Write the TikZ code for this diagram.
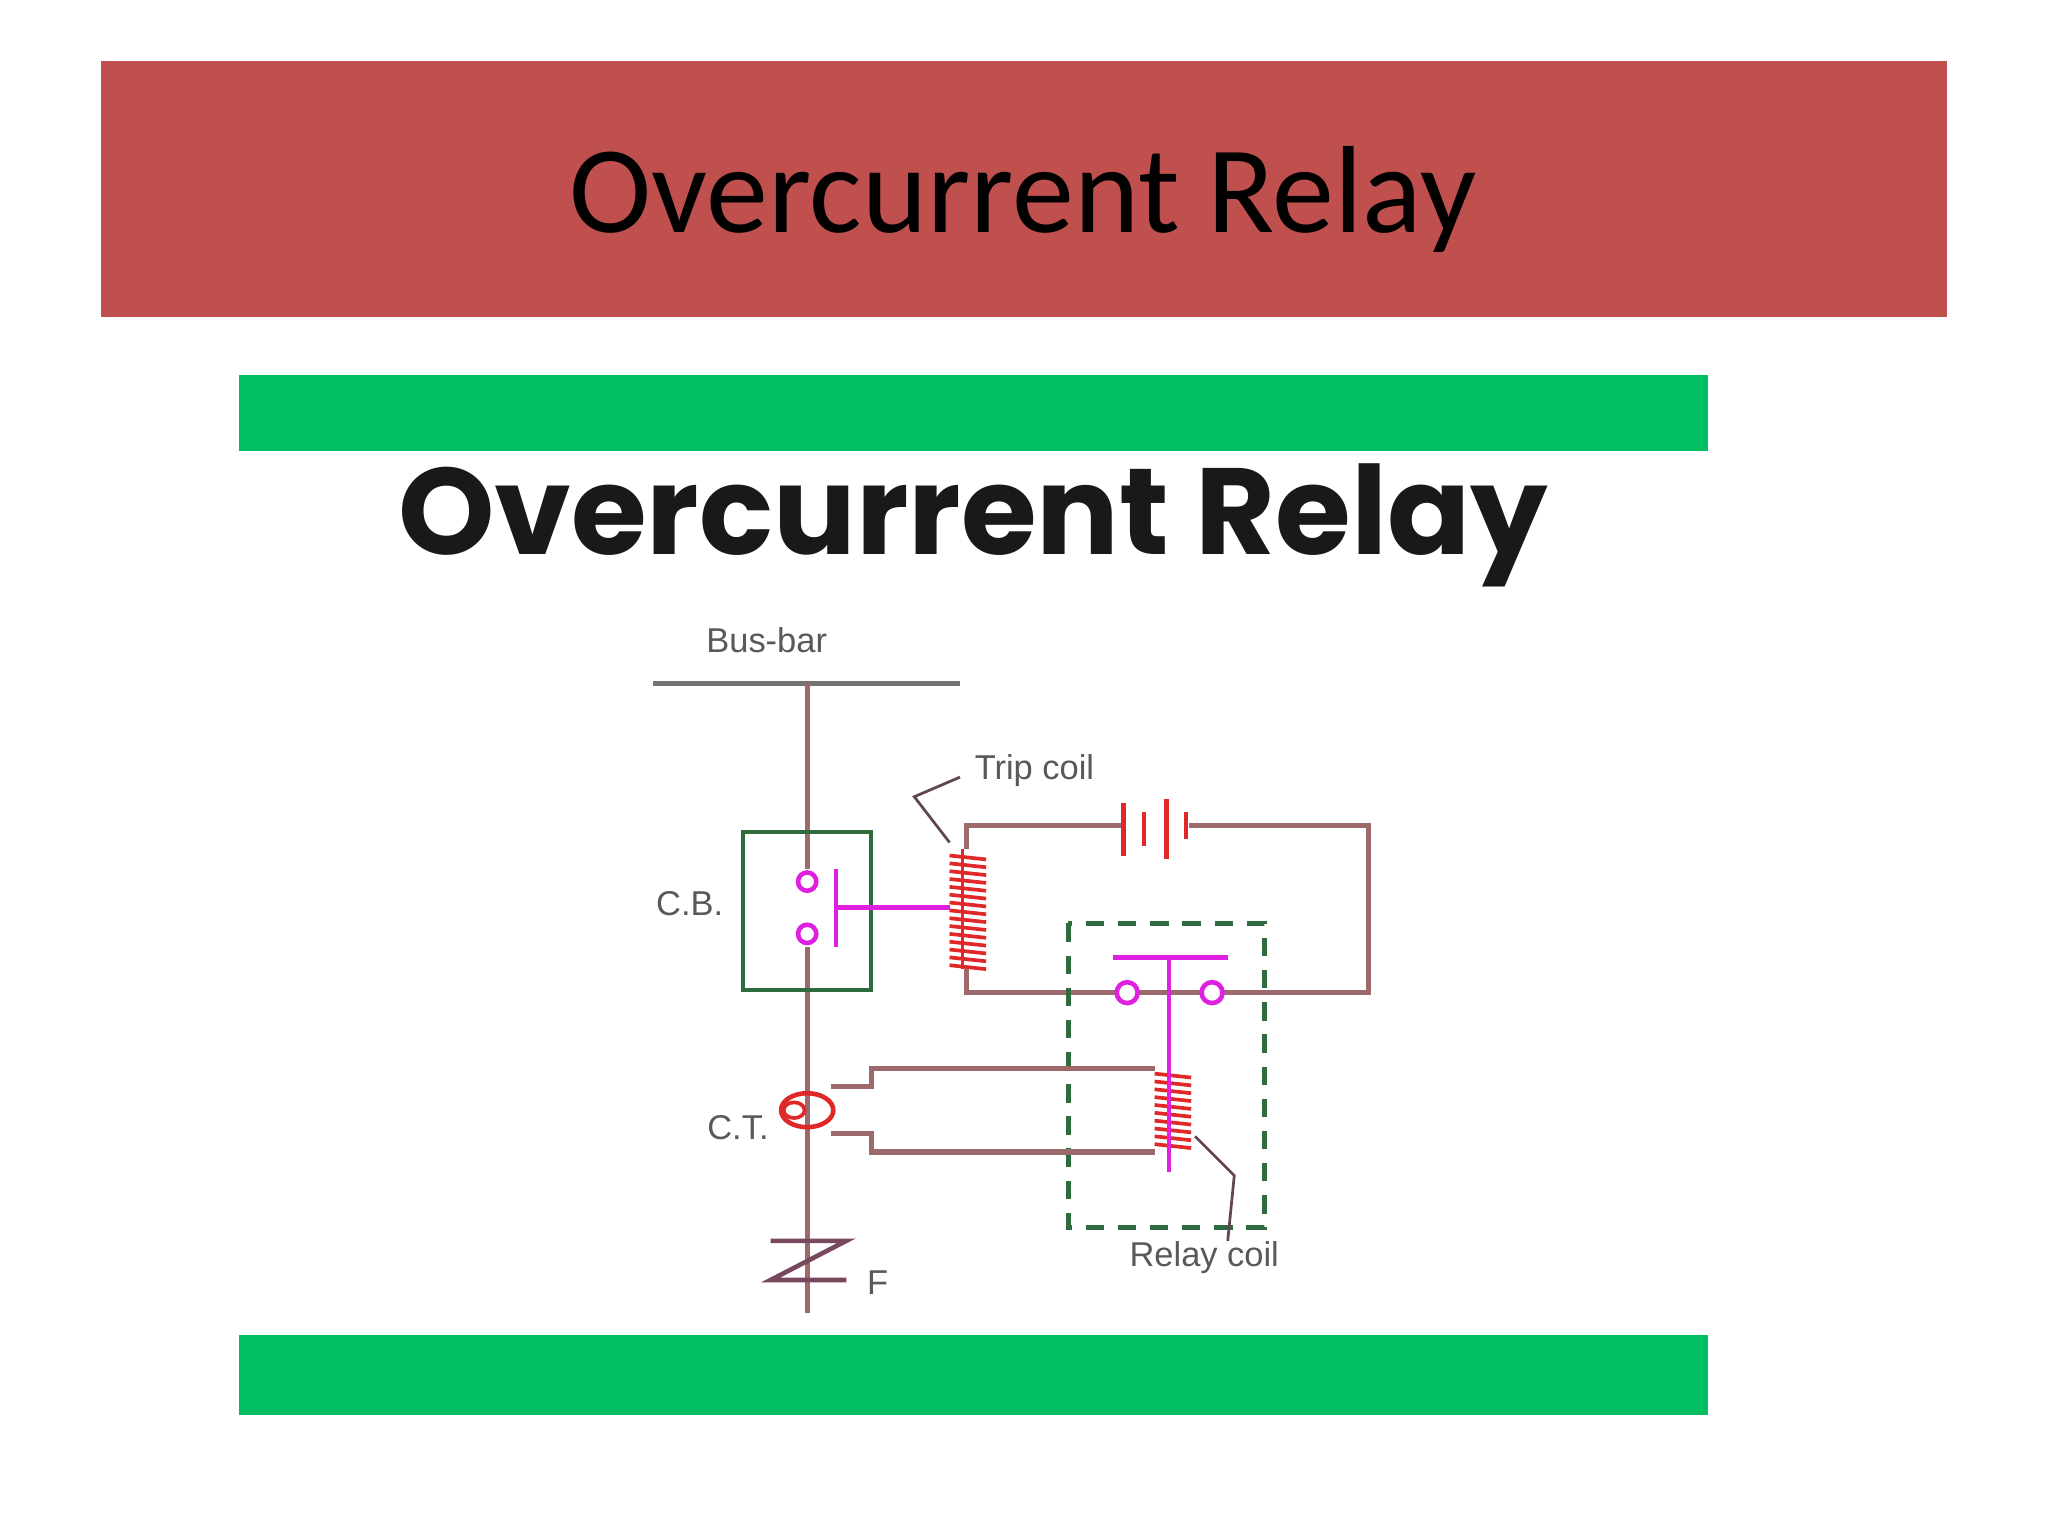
\documentclass[tikz,border=0pt]{standalone}
\usepackage{fontspec}
\setmainfont{Carlito}
\newfontfamily\pop{Poppins}
\newfontfamily\lib{Liberation Sans}
\definecolor{banner}{HTML}{C0504D}
\definecolor{grn}{HTML}{00BF63}
\definecolor{wire}{HTML}{9C6A6A}
\definecolor{cbg}{HTML}{2E6B3E}
\definecolor{mag}{HTML}{E020E0}
\definecolor{coil}{HTML}{E02828}
\begin{document}
\begin{tikzpicture}[x=0.01cm,y=-0.01cm,
  w/.style={wire,line width=1.1pt},
  m/.style={mag,line width=1pt},
  lbl/.style={font=\lib\fontsize{7.5}{9}\selectfont,text=black!65},
  cl/.style={coil,line width=0.8pt}]
\useasboundingbox (0,0) rectangle (1568,1176);
\fill[white] (0,0) rectangle (1568,1176);
\node[fill=banner,minimum width=14.12cm,minimum height=1.96cm,inner sep=0] (ban) at (784,145) {};
\node[font=\fontsize{27}{30}\selectfont] (t1) at (783,153) {Overcurrent Relay};
\node[fill=grn,minimum width=11.24cm,minimum height=0.58cm,inner sep=0] (g1) at (745,316) {};
\node[fill=grn,minimum width=11.24cm,minimum height=0.61cm,inner sep=0] (g2) at (745,1053) {};
\node[font=\pop\bfseries\fontsize{48}{52}\selectfont,text=black!90] (t2) at (745,402) {\resizebox{8.8cm}{!}{Overcurrent Relay}};
% bus bar and main line
\coordinate (bb1) at (500,523); \coordinate (bb2) at (735,523);
\draw[w,black!55] (bb1) -- (bb2);
\node[lbl] (busl) at (587,490) {Bus-bar};
\coordinate (mt) at (618,523); \coordinate (mb) at (618,1005);
\draw[w] (mt) -- (mb);
% CB
\draw[cbg,line width=1pt] (569,637) rectangle (667,758);
\node[lbl] (cbl) at (528,692) {C.B.};
\fill[white] (612,665) rectangle (624,725);
\draw[m] (618,675) circle (7) (618,715) circle (7);
\draw[m] (640,665) -- (640,725) (640,695) -- (727,695);
% trip coil
\foreach \y in {655,661,...,740} \draw[cl] (727,\y) -- (755,\y+3);
\draw[coil,line width=0.6pt] (737,650) -- (737,742);
\coordinate (tc1) at (740,632); \coordinate (tc2) at (740,760);
\draw[w] (740,650) -- (tc1) -- (858,632);
\draw[coil,line width=1pt] (860,615)--(860,655) (876,622)--(876,648) (893,612)--(893,658) (908,622)--(908,642);
\draw[w] (910,632) -- (1048,632) -- (1048,760) -- (936,760);
\draw[w] (740,742) -- (tc2) -- (855,760);
\draw[w] (871,760) -- (920,760);
\draw[m] (863,760) circle (8) (928,760) circle (8);
\draw[m] (852,733) -- (940,733) (895,733) -- (895,897);
\node[lbl] (tcl) at (792,590) {Trip coil};
\draw[black!70!magenta,line width=0.6pt] (735,595) -- (700,610) -- (727,645);
% dashed box
\draw[cbg,line width=1pt,dash pattern=on 4pt off 3pt] (818,707) rectangle (968,940);
% CT
\draw[coil,line width=1pt] (618,850) ellipse (20 and 13);
\draw[coil,line width=0.8pt] (608,850) ellipse (8 and 6);
\draw[w] (636,832) -- (667,832) -- (667,818) -- (884,818);
\draw[w] (636,868) -- (667,868) -- (667,882) -- (884,882);
\node[lbl] (ctl) at (565,863) {C.T.};
% relay coil
\foreach \y in {822,828,...,878} \draw[cl] (884,\y) -- (912,\y+3);
\draw[m] (895,820) -- (895,897);
\node[lbl] (rcl) at (922,963) {Relay coil};
\draw[black!70!magenta,line width=0.6pt] (915,870) -- (945,900) -- (940,950);
% fault
\draw[black!60!magenta,line width=1pt] (590,950) -- (648,950) -- (590,980) -- (648,980);
\node[lbl] (fl) at (672,982) {F};
\end{tikzpicture}
\end{document}
